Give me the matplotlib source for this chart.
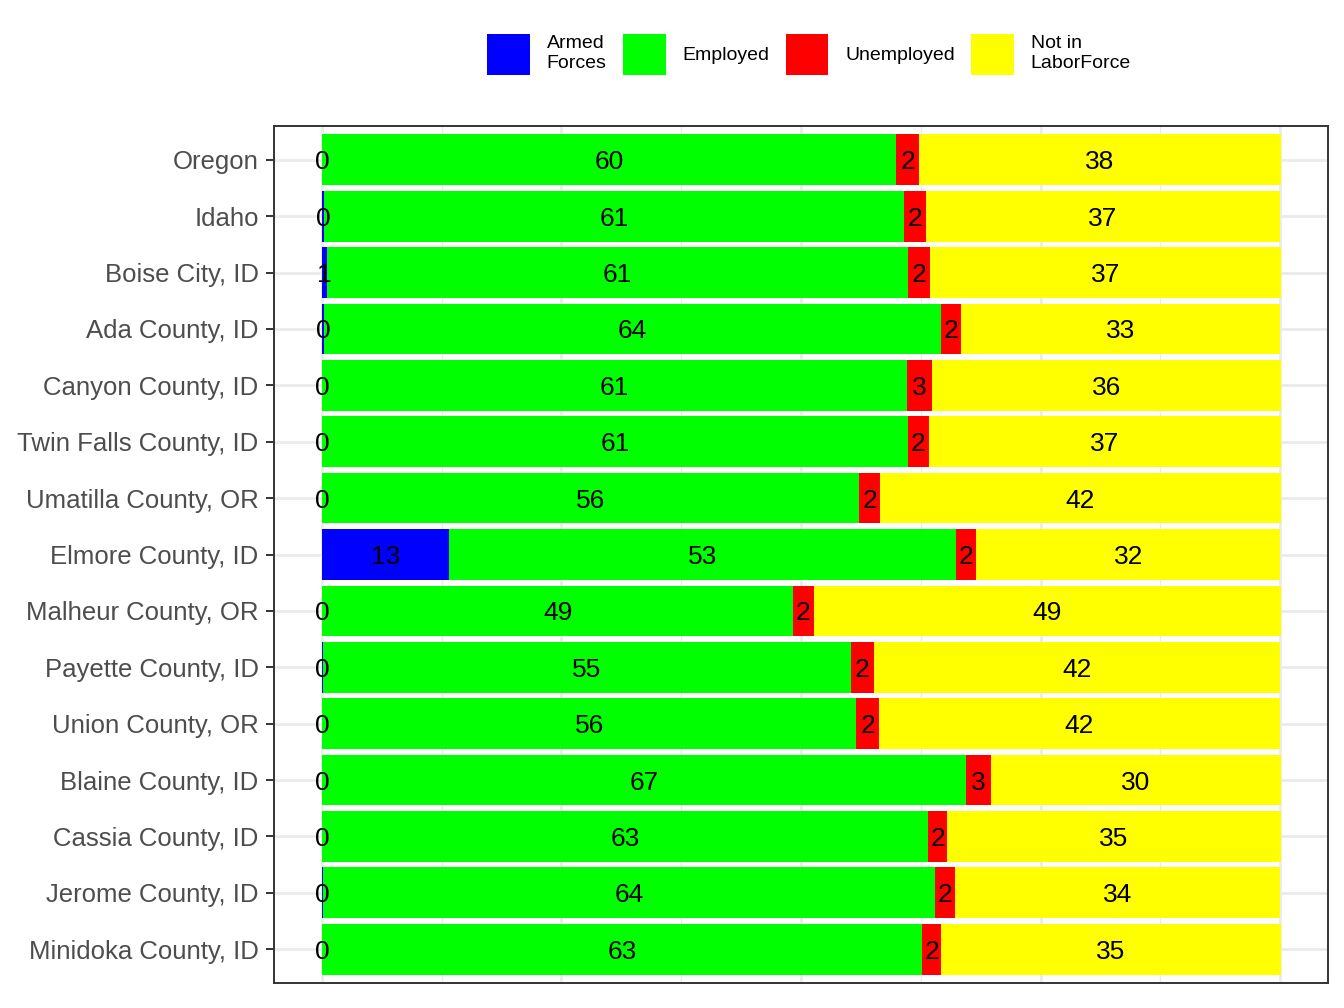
import numpy as np
import matplotlib
matplotlib.use("Agg")
import matplotlib.pyplot as plt
from matplotlib.patches import Patch

plt.rcParams['font.family'] = ['Liberation Sans', 'DejaVu Sans']

places = ['Oregon', 'Idaho', 'Boise City, ID', 'Ada County, ID', 'Canyon County, ID',
          'Twin Falls County, ID', 'Umatilla County, OR', 'Elmore County, ID',
          'Malheur County, OR', 'Payette County, ID', 'Union County, OR',
          'Blaine County, ID', 'Cassia County, ID', 'Jerome County, ID',
          'Minidoka County, ID']

# percent of population 16+
armed = [0.05, 0.2, 0.55, 0.2, 0.05, 0.05, 0.05, 13.3, 0.05, 0.1, 0.05, 0.05, 0.05, 0.1, 0.05]
employed = [59.9, 60.6, 60.6, 64.4, 61.0, 61.1, 56.0, 52.9, 49.1, 55.1, 55.7, 67.2, 63.2, 63.9, 62.6]
unemployed = [2.4, 2.2, 2.3, 2.1, 2.6, 2.2, 2.2, 2.1, 2.2, 2.4, 2.4, 2.6, 2.0, 2.1, 2.0]
not_in_lf = [37.7, 37.0, 36.6, 33.3, 36.4, 36.7, 41.8, 31.7, 48.7, 42.4, 41.8, 30.2, 34.8, 33.9, 35.4]

series = [('Armed\nForces', armed, '#0000FF'),
          ('Employed', employed, '#00FF00'),
          ('Unemployed', unemployed, '#FF0000'),
          ('Not in\nLaborForce', not_in_lf, '#FFFF00')]

fig = plt.figure(figsize=(13.44, 10.08), dpi=100)
ax = fig.add_axes([274/1344, 1-983/1008, (1328-274)/1344, (983-126)/1008])

y = np.arange(len(places))
left = np.zeros(len(places))
handles = []
for name, vals, col in series:
    vals = np.array(vals)
    ax.barh(y, vals, left=left, height=0.9, color=col, zorder=2)
    for yi, (l, v) in enumerate(zip(left, vals)):
        ax.text(l + v / 2, yi, f"{int(round(v))}", ha='center', va='center_baseline',
                fontsize=19, color='black', zorder=3)
    left = left + vals
    handles.append(Patch(facecolor=col, edgecolor='none', label=name))

ax.set_xlim(-5, 105)
ax.set_ylim(len(places) - 0.4, -0.6)
ax.set_yticks(y)
ax.set_yticklabels(places, fontsize=18.5, color='#4D4D4D', va='center_baseline')
ax.set_xticks([0, 25, 50, 75, 100])
ax.set_xticks([12.5, 37.5, 62.5, 87.5], minor=True)
ax.set_xticklabels([])
ax.tick_params(axis='x', which='both', length=0)
ax.tick_params(axis='y', length=6, width=1.4, color='#333333', pad=5)
ax.grid(True, which='major', color='#EBEBEB', linewidth=2.0, zorder=0)
ax.grid(True, which='minor', axis='x', color='#EBEBEB', linewidth=1.0, zorder=0)
ax.set_axisbelow(True)
for s in ax.spines.values():
    s.set_color('#333333')
    s.set_linewidth(1.4)

fig.legend(handles=handles, loc='center', bbox_to_anchor=(809/1344, 1-54.5/1008),
           ncol=4, frameon=False, fontsize=14, handlelength=2.2, handleheight=2.9,
           handletextpad=0.85, columnspacing=0.85, borderpad=0)

fig.savefig('out.png', dpi=100, facecolor='white')
